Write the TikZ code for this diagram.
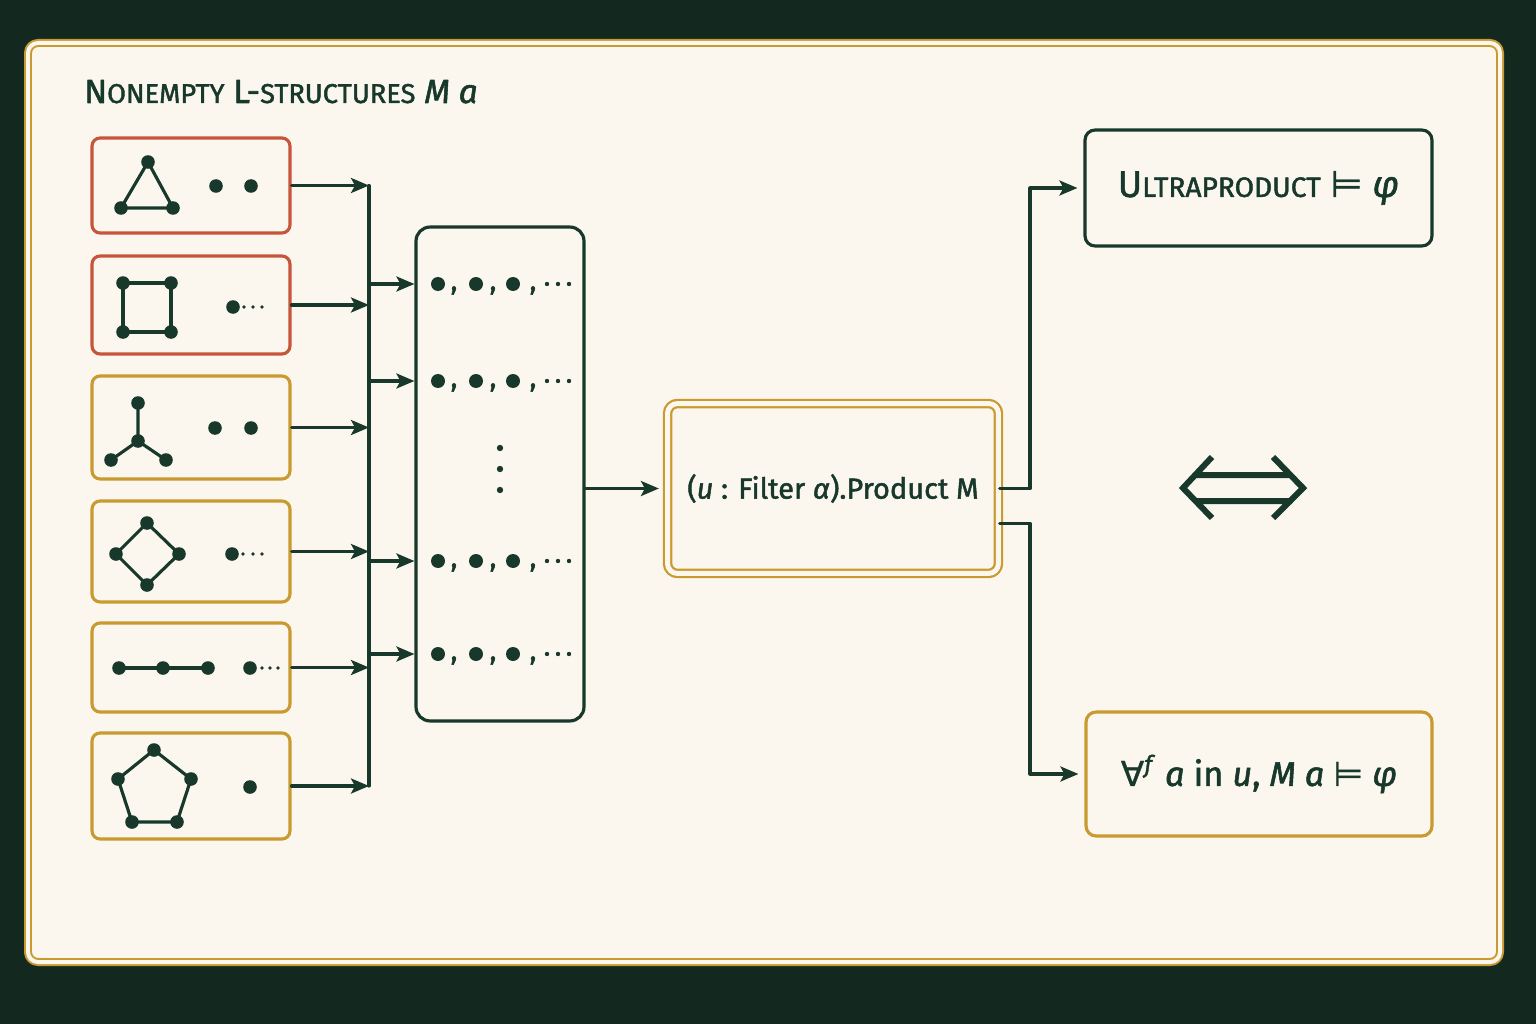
\documentclass[tikz,border=0pt]{standalone}
\usepackage{fontspec}
\setmainfont{Fira Sans}[FakeBold=1.6]
\newfontfamily\symfont{DejaVu Sans}[FakeBold=0.8]
\usetikzlibrary{arrows.meta,positioning}
\definecolor{bgdark}{HTML}{13291F}
\definecolor{ink}{HTML}{17382A}
\definecolor{paper}{HTML}{FBF7EF}
\definecolor{rust}{HTML}{C6553A}
\definecolor{ochre}{HTML}{C99A30}
\begin{document}
\begin{tikzpicture}[x=0.02cm,y=-0.02cm,line cap=round,line join=round,
  lbl/.style={text=ink,inner sep=0pt},
  lbox/.style={lbl,draw=ochre,line width=1.8pt,rounded corners=0.16cm,minimum width=3.96cm},
  redbox/.style={lbox,draw=rust},
  link/.style={ink,line width=1.8pt,-{Stealth[length=0.36cm,width=0.3cm,inset=0.08cm]}},
  wire/.style={ink,line width=1.8pt}]
  % frame
  \fill[bgdark] (0,0) rectangle (1536,1024);
  \useasboundingbox (0,0) rectangle (1536,1024);
  \fill[paper,rounded corners=0.2cm] (28,43) rectangle (1500,962);
  \draw[ochre,line width=0.04cm,double=paper,double distance=0.08cm,rounded corners=0.2cm] (28,43) rectangle (1500,962);
  \node[lbl,anchor=base west] (title) at (84,103)
    {\fontsize{19}{22}\selectfont N{\fontsize{15.5}{18}\selectfont ONEMPTY} L-{\fontsize{15.5}{18}\selectfont STRUCTURES} \textit{M a}};

  % the structures
  \node[redbox,minimum height=1.9cm] (s1) at (191,185.5) {};
  \node[redbox,minimum height=1.96cm] (s2) at (191,305) {};
  \node[lbox,minimum height=2.06cm] (s3) at (191,427.5) {};
  \node[lbox,minimum height=2.02cm] (s4) at (191,551.5) {};
  \node[lbox,minimum height=1.78cm] (s5) at (191,667.5) {};
  \node[lbox,minimum height=2.12cm] (s6) at (191,786) {};

  \draw[wire] (148,162) -- (121,208) -- (173,208) -- cycle;
  \foreach \p in {(148,162),(121,208),(173,208),(216,186),(251,186)} \fill[ink] \p circle (6.8);
  \draw[wire] (123,283) rectangle (171,332);
  \foreach \p in {(123,283),(171,283),(123,332),(171,332),(233,307)} \fill[ink] \p circle (6.8);
  \foreach \x in {244,253,262} \fill[ink] (\x,307) circle (1.9);
  \draw[wire] (138,403) -- (138,441) (111,460) -- (138,441) -- (166,460);
  \foreach \p in {(138,403),(138,441),(111,460),(166,460),(215,428),(251,428)} \fill[ink] \p circle (6.8);
  \draw[wire] (147,523) -- (179,554) -- (147,585) -- (116,554) -- cycle;
  \foreach \p in {(147,523),(179,554),(147,585),(116,554),(232,554)} \fill[ink] \p circle (6.8);
  \foreach \x in {243,253,262} \fill[ink] (\x,554) circle (1.9);
  \draw[wire] (119,668) -- (208,668);
  \foreach \p in {(119,668),(163,668),(208,668),(250,668)} \fill[ink] \p circle (6.8);
  \foreach \x in {262,270,278} \fill[ink] (\x,668) circle (1.9);
  \draw[wire] (154,750) -- (191,779) -- (177,822) -- (132,822) -- (118,779) -- cycle;
  \foreach \p in {(154,750),(191,779),(177,822),(132,822),(118,779),(250,787)} \fill[ink] \p circle (6.8);

  % the sequences
  \node[lbl,draw=ink,line width=1.8pt,rounded corners=0.28cm,minimum width=3.36cm,minimum height=9.88cm] (seq) at (500,474) {};
  \coordinate (busx) at (369,0);
  \foreach \r/\y in {r1/284,r2/381,r3/561,r4/654} \coordinate (\r) at (500,\y);
  \foreach \s in {s1,s2,s3,s4,s5,s6} \draw[link] (\s.east) -- (\s.east -| busx);
  \draw[wire] (s1.east -| busx) -- (s6.east -| busx);
  \foreach \r in {r1,r2,r3,r4} {
    \draw[link] (\r -| busx) -- (\r -| seq.west);
    \foreach \dx in {-62,-24,13} \fill[ink] (\r) ++(\dx,0) circle (7);
    \foreach \dx in {-46,-7,33} \path (\r) ++(\dx,6) node[lbl,anchor=base,font=\fontsize{16}{16}\selectfont] {,};
    \foreach \dx in {47,58,69} \fill[ink] (\r) ++(\dx,0) circle (2.2);
  }
  \foreach \dy in {-26,-5,16} \fill[ink] (seq.center) ++(0,\dy) circle (3.2);

  % product and the two readings
  \node[lbl,draw=ochre,line width=0.045cm,double=paper,double distance=0.1cm,rounded corners=0.2cm,
    minimum width=6.62cm,minimum height=3.4cm,font=\fontsize{16.5}{20}\selectfont] (prod) at (833,488.5)
    {(\textit{u} : Filter \textit{α}).Product M};
  \draw[link,shorten >=0.15cm] (seq.east |- prod.west) -- (prod.west);

  \node[lbl,draw=ink,line width=1.8pt,rounded corners=0.2cm,minimum width=6.94cm,minimum height=2.32cm] (ultra) at (1258.5,188)
    {\fontsize{21}{24}\selectfont U{\fontsize{16}{20}\selectfont LTRAPRODUCT} {\symfont ⊨} \textit{φ}};
  \node[lbl,draw=ochre,line width=1.8pt,rounded corners=0.2cm,minimum width=6.92cm,minimum height=2.48cm,
    font=\fontsize{19.5}{24}\selectfont] (ev) at (1259,774)
    {{\symfont ∀}\textsuperscript{\textit{f}} \textit{a} in \textit{u}, \textit{M a} {\symfont ⊨} \textit{φ}};

  \coordinate (forkx) at (1030,0);
  \draw[link,shorten >=0.12cm] (prod.east) -| (forkx |- ultra.west) -- (ultra.west);
  \draw[link,shorten >=0.12cm] ([yshift=-0.7cm]prod.east) -| (forkx |- ev.west) -- (ev.west);

  % iff
  \draw[ink,line width=0.12cm,line cap=butt,line join=miter]
    (1212,457) -- (1183,488) -- (1212,518)
    (1273,457) -- (1303,488) -- (1273,518)
    (1194,475) -- (1292,475) (1194,501) -- (1292,501);
\end{tikzpicture}
\end{document}
